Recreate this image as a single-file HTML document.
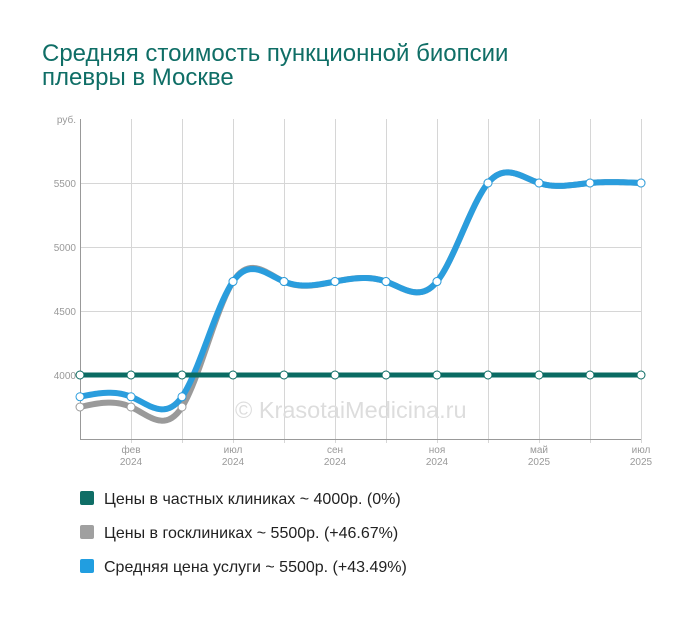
<!DOCTYPE html>
<html><head><meta charset="utf-8"><style>
body{margin:0;background:#fff;width:700px;height:616px;overflow:hidden;font-family:"Liberation Sans","DejaVu Sans",sans-serif}
</style></head><body>
<svg id="s" width="700" height="616" xmlns="http://www.w3.org/2000/svg" font-family="Liberation Sans, DejaVu Sans, sans-serif">
<text x="42" y="61" font-size="24" fill="#0f6e66">Средняя стоимость пункционной биопсии</text>
<text x="42" y="85" font-size="24" fill="#0f6e66">плевры в Москве</text>
<g id="grid" stroke="#d6d6d6" stroke-width="1"></g>
<line x1="80.5" y1="119" x2="80.5" y2="439" stroke="#999"/>
<line x1="80" y1="439.5" x2="641" y2="439.5" stroke="#999"/>
<g font-size="10" fill="#999" text-anchor="end">
<text x="76" y="123">руб.</text>
<text x="76" y="187">5500</text>
<text x="76" y="251">5000</text>
<text x="76" y="315">4500</text>
<text x="76" y="379">4000</text>
</g>
<g font-size="10" fill="#999" text-anchor="middle">
<text x="131" y="453">фев</text><text x="131" y="465">2024</text>
<text x="233" y="453">июл</text><text x="233" y="465">2024</text>
<text x="335" y="453">сен</text><text x="335" y="465">2024</text>
<text x="437" y="453">ноя</text><text x="437" y="465">2024</text>
<text x="539" y="453">май</text><text x="539" y="465">2025</text>
<text x="641" y="453">июл</text><text x="641" y="465">2025</text>
</g>
<text x="235" y="418" font-size="23.5" fill="#ddd">© KrasotaiMedicina.ru</text>
<g id="lines"></g>
<rect x="80" y="491" width="14" height="14" rx="2" fill="#0f6e66"/>
<rect x="80" y="525" width="14" height="14" rx="2" fill="#a0a0a0"/>
<rect x="80" y="559" width="14" height="14" rx="2" fill="#219ee0"/>
<g font-size="16" fill="#222">
<text x="104" y="504">Цены в частных клиниках ~ 4000р. (0%)</text>
<text x="104" y="538">Цены в госклиниках ~ 5500р. (+46.67%)</text>
<text x="104" y="572">Средняя цена услуги ~ 5500р. (+43.49%)</text>
</g>
</svg>
<script>
var NS="http://www.w3.org/2000/svg";
var X=[];for(var i=0;i<12;i++)X.push(80+i*51);
function yv(v){return 375-(v-4000)*0.128;}
var g=document.getElementById("grid");
[183,247,311].forEach(function(y){var l=document.createElementNS(NS,"line");l.setAttribute("x1",80);l.setAttribute("x2",641);l.setAttribute("y1",y+.5);l.setAttribute("y2",y+.5);g.appendChild(l);});
X.slice(1).forEach(function(x){var l=document.createElementNS(NS,"line");l.setAttribute("x1",x+.5);l.setAttribute("x2",x+.5);l.setAttribute("y1",119);l.setAttribute("y2",443);g.appendChild(l);});
function path(vals){
var n=vals.length,y=vals.map(yv),h=51;
// natural cubic spline second derivatives
var a=[],b=[],c=[],r=[],M=new Array(n).fill(0);
for(var i=1;i<n-1;i++){a[i]=h;b[i]=4*h;c[i]=h;r[i]=6*(y[i+1]-2*y[i]+y[i-1])/h;}
for(var i=2;i<n-1;i++){var m=a[i]/b[i-1];b[i]-=m*c[i-1];r[i]-=m*r[i-1];}
for(var i=n-2;i>=1;i--){M[i]=(r[i]-(i<n-2?c[i]*M[i+1]:0))/b[i];}
var d="M"+X[0]+","+y[0];
for(var i=0;i<n-1;i++){for(var s=1;s<=20;s++){var t=s/20*h,A=(h-t)/h,B=t/h;
var yy=A*y[i]+B*y[i+1]+((A*A*A-A)*M[i]+(B*B*B-B)*M[i+1])*h*h/6;
d+=" L"+(X[i]+t).toFixed(2)+","+yy.toFixed(2);}}
return d;}
var L=document.getElementById("lines");
function series(vals,col,w,mk){var e=document.createElementNS(NS,"path");e.setAttribute("d",path(vals));e.setAttribute("fill","none");e.setAttribute("stroke",col);e.setAttribute("stroke-width",w);e.setAttribute("stroke-linejoin","round");L.appendChild(e);
vals.forEach(function(v,i){var c=document.createElementNS(NS,"circle");c.setAttribute("cx",X[i]);c.setAttribute("cy",yv(v));c.setAttribute("r",4);c.setAttribute("fill","#fff");c.setAttribute("stroke",mk);c.setAttribute("stroke-width",1);L.appendChild(c);});}
series([3750,3750,3750,4730,4730,4730,4730,4730,5500,5500,5500,5500],"#9a9a9a",6,"#9a9a9a");
series([3830,3830,3830,4730,4730,4730,4730,4730,5500,5500,5500,5500],"#2a9ddd",6,"#2a9ddd");
series([4000,4000,4000,4000,4000,4000,4000,4000,4000,4000,4000,4000],"#0a6b63",5,"#0a6b63");
</script>
</body></html>
